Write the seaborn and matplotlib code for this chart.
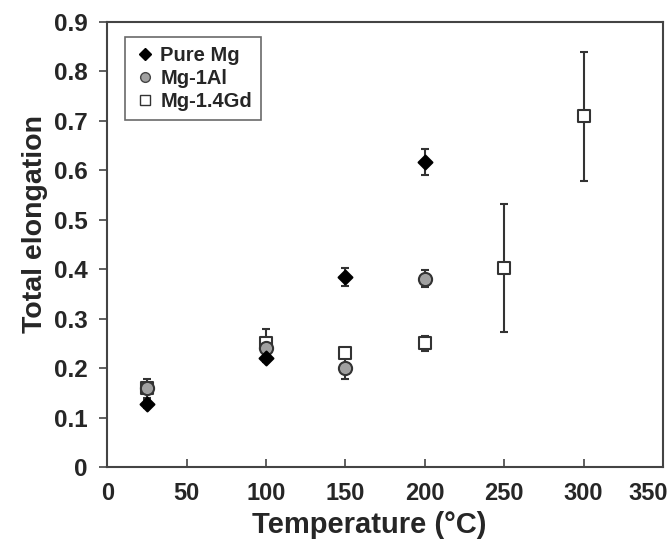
import matplotlib
matplotlib.use("Agg")
import matplotlib.pyplot as plt
import matplotlib.transforms as mtransforms
import seaborn as sns
import pandas as pd
from matplotlib.lines import Line2D

sns.set_style("white")
plt.rcParams['font.family'] = ['Liberation Sans', 'DejaVu Sans']

# Data
temp_pure = [25, 100, 150, 200]
elong_pure = [0.127, 0.221, 0.385, 0.617]
err_pure = [0.008, 0.008, 0.018, 0.026]

temp_al = [25, 100, 150, 200]
elong_al = [0.160, 0.240, 0.201, 0.381]
err_al = [0.010, 0.010, 0.023, 0.017]

temp_gd = [25, 100, 150, 200, 250, 300]
elong_gd = [0.159, 0.251, 0.231, 0.250, 0.403, 0.709]
err_gd = [0.019, 0.028, 0.005, 0.015, 0.129, 0.130]

series = ["Pure Mg", "Mg-1Al", "Mg-1.4Gd"]
x_ticks = [0, 50, 100, 150, 200, 250, 300, 350]
y_ticks = [0, 0.1, 0.2, 0.3, 0.4, 0.5, 0.6, 0.7, 0.8, 0.9]

df = pd.concat([
    pd.DataFrame({"T": temp_pure, "E": elong_pure, "err": err_pure, "s": series[0]}),
    pd.DataFrame({"T": temp_al, "E": elong_al, "err": err_al, "s": series[1]}),
    pd.DataFrame({"T": temp_gd, "E": elong_gd, "err": err_gd, "s": series[2]}),
])

fig = plt.figure(figsize=(6.7, 5.47), dpi=100)
ax = fig.add_axes([0.16, 0.1463, 0.8296, 0.8135])

styles = {
    "Pure Mg": dict(marker="D", s=50, color="black", edgecolor="black"),
    "Mg-1Al": dict(marker="o", s=90, color="#a0a0a0", edgecolor="#333333"),
    "Mg-1.4Gd": dict(marker="s", s=65, color="white", edgecolor="#333333"),
}
ecol = "#333333"

for name in series:
    sub = df[df["s"] == name]
    ax.errorbar(sub["T"], sub["E"], yerr=sub["err"], fmt="none", ecolor=ecol,
                elinewidth=1.5, capsize=3, capthick=1.5, zorder=2)
for name in ["Mg-1.4Gd", "Mg-1Al", "Pure Mg"]:
    sub = df[df["s"] == name]
    st = styles[name]
    sns.scatterplot(data=sub, x="T", y="E", ax=ax, marker=st["marker"], s=st["s"],
                    color=st["color"], edgecolor=st["edgecolor"], linewidth=1.5,
                    zorder=3, legend=False)

ax.set_xlim(0, 350)
ax.set_ylim(0, 0.9)
ax.set_xticks(x_ticks)
ax.set_yticks(y_ticks)
ax.set_xticklabels([str(v) for v in x_ticks], fontsize=17, fontweight="bold")
ax.set_yticklabels(["0"] + [f"{v:.1f}" for v in y_ticks[1:]], fontsize=17.5, fontweight="bold")
ax.tick_params(axis="x", direction="in", length=6, width=1.2, color="#444444", pad=11,
               bottom=True)
ax.tick_params(axis="y", direction="out", length=6, width=1.2, color="#444444", pad=8,
               left=True)
# last x tick label sits slightly left of its tick, inside the figure
lbl = ax.get_xticklabels()[-1]
lbl.set_transform(lbl.get_transform() + mtransforms.ScaledTranslation(-15 / 100, 0, fig.dpi_scale_trans))

ax.set_xlabel("Temperature (°C)", fontsize=21, fontweight="bold")
ax.set_ylabel("Total elongation", fontsize=20.5, fontweight="bold")
ax.xaxis.set_label_coords(0.471, -0.099)
ax.yaxis.set_label_coords(-0.106, 0.545)
for sp in ax.spines.values():
    sp.set_color("#444444")
    sp.set_linewidth(1.5)

handles = [
    Line2D([], [], linestyle="none", marker="D", markersize=6, markerfacecolor="black",
           markeredgecolor="black"),
    Line2D([], [], linestyle="none", marker="o", markersize=7, markerfacecolor="#a0a0a0",
           markeredgecolor="#444444"),
    Line2D([], [], linestyle="none", marker="s", markersize=7, markerfacecolor="white",
           markeredgecolor="#333333"),
]
leg = ax.legend(handles, series, loc="upper left", bbox_to_anchor=(0.032, 0.966),
                prop={"weight": "bold", "size": 14.5}, frameon=True, fancybox=False,
                handletextpad=0.2, handlelength=1.1, borderpad=0.45, labelspacing=0.2,
                borderaxespad=0)
leg.get_frame().set_edgecolor("#444444")
leg.get_frame().set_linewidth(1.2)

fig.savefig("out.png", dpi=100)
